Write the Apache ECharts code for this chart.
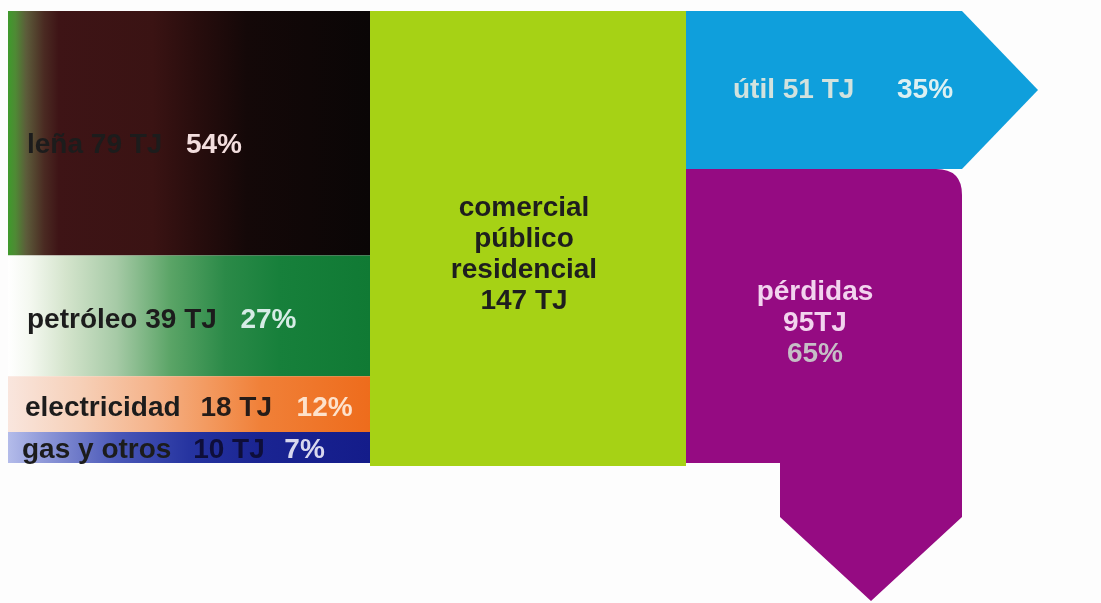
<!DOCTYPE html>
<html>
<head>
<meta charset="utf-8">
<title>Consumo energético: comercial, público y residencial</title>
<script src="https://cdn.jsdelivr.net/npm/echarts@6/dist/echarts.min.js"></script>
<style>
  html, body { margin: 0; padding: 0; background: #fdfdfd; }
  #chart { width: 1101px; height: 603px; }
</style>
</head>
<body>
<div id="chart"></div>
<script>
// Energy sources feeding the sector (TJ and share)
const sourceNames = ['leña', 'petróleo', 'electricidad', 'gas y otros'];
const sourceTJ = [79, 39, 18, 10];
const sourcePct = [54, 27, 12, 7];

// Consuming sector
const hubLines = ['comercial', 'público', 'residencial'];
const hubTJ = 147;

// What becomes of the energy
const useNames = ['útil', 'pérdidas'];
const useTJ = [51, 95];
const usePct = [35, 65];

// ---- layout and styling ----
const FONT = '"Liberation Sans", Arial, sans-serif';
const COL = { srcEnd: 362, hubEnd: 678, outEnd: 954, tip: 1030 };
const STEM_LEFT = 772;          // left edge of the downward stem (x units)
const STEM_DROP = 54;           // px the stem runs below the block
const STEM_HEAD = 84;           // px of the downward arrow head
const CORNER = 26;              // rounded corner of the losses block
const labelLeft = [19, 19, 17, 14];
const labelDy = [12, 4, 4, 3];
const valueGap = [0, 0, 12, 14];
const pctGap = [8, 8, 9, 4];

const sourceFills = [
  [[0, '#3f9a2c'], [0.02, '#4e8a34'], [0.05, '#5c5c3a'], [0.10, '#4a2a22'], [0.14, '#3e1416'],
   [0.40, '#3a1313'], [0.52, '#280d0d'], [0.66, '#140808'], [1, '#0a0606']],
  [[0, '#ffffff'], [0.06, '#f4f8f0'], [0.16, '#d4e4cc'], [0.30, '#a6caa6'], [0.45, '#5aa466'],
   [0.60, '#2b8a48'], [0.75, '#17803b'], [1, '#107a34']],
  [[0, '#f9e6de'], [0.20, '#f6d0b8'], [0.40, '#f5b38a'], [0.55, '#f39a60'], [0.70, '#f08038'], [1, '#ee6c1c']],
  [[0, '#b4bcea'], [0.10, '#8e98d8'], [0.30, '#4a58b8'], [0.50, '#2634a0'], [0.70, '#1a2492'], [1, '#141c8a']]
];
const pctColors = ['#f3dede', '#d6ece6', '#fde2cc', '#d8d8ee'];
const valueColors = ['#1c1c1c', '#1c1c1c', '#261c18', '#0e0e3a'];

function grad(stops) {
  return {
    type: 'linear', x: 0, y: 0, x2: 1, y2: 0,
    colorStops: stops.map(s => ({ offset: s[0], color: s[1] }))
  };
}

// stacked spans for the sources and the uses
function spans(values) {
  let acc = 0;
  return values.map((v, i) => { const s = acc; acc += v; return [i, s, acc]; });
}
const sourceData = spans(sourceTJ);
const useData = spans(useTJ);
const totalIn = sourceTJ.reduce((a, b) => a + b, 0);

function renderSource(params, api) {
  const i = api.value(0);
  const a = api.coord([0, api.value(1)]);
  const b = api.coord([COL.srcEnd, api.value(2)]);
  const midY = (a[1] + b[1]) / 2 + labelDy[i];
  return {
    type: 'group',
    children: [
      { type: 'rect', shape: { x: a[0], y: a[1], width: b[0] - a[0], height: b[1] - a[1] },
        style: { fill: grad(sourceFills[i]) } },
      { type: 'text', x: a[0] + labelLeft[i], y: midY,
        style: {
          text: '{n|' + sourceNames[i] + '} {v|' + sourceTJ[i] + ' TJ}  {p|' + sourcePct[i] + '%}',
          verticalAlign: 'middle', align: 'left',
          font: 'bold 28px ' + FONT,
          rich: {
            n: { fill: '#1c1c1c', font: 'bold 28px ' + FONT },
            v: { fill: valueColors[i], font: 'bold 28px ' + FONT, padding: [0, 0, 0, valueGap[i]] },
            p: { fill: pctColors[i], font: 'bold 28px ' + FONT, padding: [0, 0, 0, pctGap[i]] }
          }
        } }
    ]
  };
}

function renderHub(params, api) {
  const a = api.coord([COL.srcEnd, 0]);
  const b = api.coord([COL.hubEnd, api.value(1)]);
  const cx = (a[0] + b[0]) / 2 - 4;
  const cy = (a[1] + b[1]) / 2 + 16;
  return {
    type: 'group',
    children: [
      { type: 'rect', shape: { x: a[0], y: a[1], width: b[0] - a[0], height: b[1] - a[1] },
        style: { fill: '#a6d215' } },
      { type: 'text', x: cx, y: cy,
        style: {
          text: hubLines.join('\n') + '\n' + api.value(1) + ' TJ',
          align: 'center', verticalAlign: 'middle', lineHeight: 31,
          font: 'bold 28px ' + FONT, fill: '#1e1e1e'
        } }
    ]
  };
}

function renderUse(params, api) {
  const i = api.value(0);
  const y0 = api.value(1), y1 = api.value(2);
  const tl = api.coord([COL.hubEnd, y0]);
  const br = api.coord([COL.outEnd, y1]);
  if (i === 0) {
    const tip = api.coord([COL.tip, (y0 + y1) / 2]);
    return {
      type: 'group',
      children: [
        { type: 'polygon',
          shape: { points: [[tl[0], tl[1]], [br[0], tl[1]], [tip[0], tip[1]], [br[0], br[1]], [tl[0], br[1]]] },
          style: { fill: '#0f9fdc' } },
        { type: 'text', x: tl[0] + 47, y: (tl[1] + br[1]) / 2,
          style: {
            text: '{n|' + useNames[i] + ' ' + useTJ[i] + ' TJ}{p|' + usePct[i] + '%}',
            align: 'left', verticalAlign: 'middle',
            font: 'bold 28px ' + FONT,
            rich: {
              n: { fill: '#d2e2de', font: 'bold 28px ' + FONT, width: 164 },
              p: { fill: '#dcf0f2', font: 'bold 28px ' + FONT }
            }
          } }
      ]
    };
  }
  const stemL = api.coord([STEM_LEFT, y1])[0];
  const x0 = tl[0], x1 = br[0], top = tl[1], bot = br[1];
  const headTop = bot + STEM_DROP;
  const path =
    'M' + x0 + ',' + top +
    ' L' + (x1 - CORNER) + ',' + top +
    ' Q' + x1 + ',' + top + ' ' + x1 + ',' + (top + CORNER) +
    ' L' + x1 + ',' + headTop +
    ' L' + ((stemL + x1) / 2) + ',' + (headTop + STEM_HEAD) +
    ' L' + stemL + ',' + headTop +
    ' L' + stemL + ',' + bot +
    ' L' + x0 + ',' + bot + ' Z';
  const cx = (x0 + x1) / 2 - 9;
  const cy = (top + bot) / 2 + 7;
  return {
    type: 'group',
    children: [
      { type: 'path', shape: { pathData: path }, style: { fill: '#950b82' } },
      { type: 'text', x: cx, y: cy,
        style: {
          text: '{n|' + useNames[i] + '}\n{n|' + useTJ[i] + 'TJ}\n{p|' + usePct[i] + '%}',
          align: 'center', verticalAlign: 'middle',
          font: 'bold 28px ' + FONT,
          rich: {
            n: { fill: '#f2d4ee', font: 'bold 28px ' + FONT, lineHeight: 31 },
            p: { fill: '#c6bec6', font: 'bold 28px ' + FONT, lineHeight: 31 }
          }
        } }
    ]
  };
}

const chart = echarts.init(document.getElementById('chart'), null, { renderer: 'canvas' });
chart.setOption({
  backgroundColor: '#fdfdfd',
  animation: false,
  grid: { left: 8, top: 11, width: 1030, height: 452 },
  xAxis: { type: 'value', min: 0, max: COL.tip, show: false },
  yAxis: { type: 'value', min: 0, max: totalIn, inverse: true, show: false },
  series: [
    { type: 'custom', name: 'fuentes', renderItem: renderSource, data: sourceData, clip: false, silent: true },
    { type: 'custom', name: 'sector', renderItem: renderHub, data: [[0, hubTJ]], clip: false, silent: true },
    { type: 'custom', name: 'usos', renderItem: renderUse, data: useData, clip: false, silent: true }
  ]
});
</script>
</body>
</html>
